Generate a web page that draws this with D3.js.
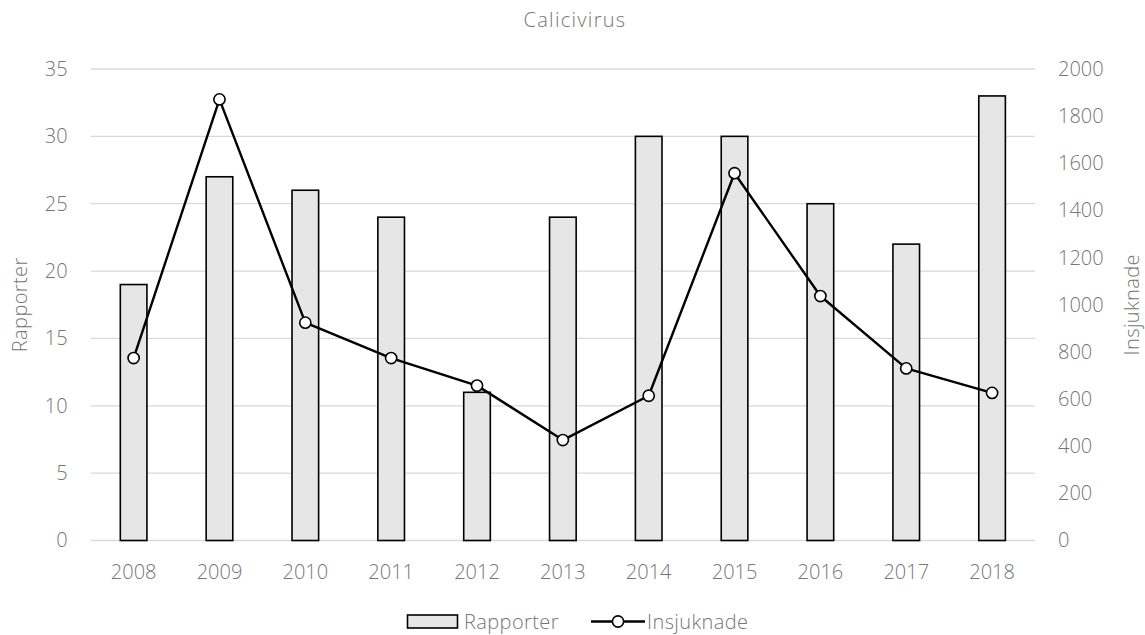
<!DOCTYPE html>
<html>
<head>
<meta charset="utf-8">
<script src="https://cdn.jsdelivr.net/npm/d3@7"></script>
<style>
  html, body { margin: 0; padding: 0; background: #fff; }
  svg { display: block; font-family: "Open Sans", sans-serif; font-weight: 300; }
  text { font-family: "Open Sans", sans-serif; font-weight: 300; }
</style>
</head>
<body>
<svg id="chart" width="1145" height="635"></svg>
<script>
const title = "Calicivirus";
const years = ["2008","2009","2010","2011","2012","2013","2014","2015","2016","2017","2018"];
const rapporter = [19, 27, 26, 24, 11, 24, 30, 30, 25, 22, 33];
const insjuknade = [774, 1871, 924, 774, 657, 426, 614, 1558, 1037, 730, 626];
const leftTicks = [0, 5, 10, 15, 20, 25, 30, 35];
const rightTicks = [0, 200, 400, 600, 800, 1000, 1200, 1400, 1600, 1800, 2000];
const leftTitle = "Rapporter";
const rightTitle = "Insjuknade";

const svg = d3.select("#chart");
const textColor = "#767676";
const fontSize = 20;

const plot = { left: 90.7, right: 1035, top: 69, bottom: 540.5 };

const x = d3.scaleBand().domain(years).range([plot.left, plot.right])
  .paddingInner(0.69).paddingOuter(0.345);
const yL = d3.scaleLinear().domain([0, 35]).range([plot.bottom, plot.top]);
const yR = d3.scaleLinear().domain([0, 2000]).range([plot.bottom, plot.top]);

function styleText(g) {
  g.selectAll("text").attr("fill", textColor)
    .style("font-size", fontSize + "px")
    .style("font-family", "'Open Sans', sans-serif").style("font-weight", 300);
}

// gridlines
svg.append("g").selectAll("line").data(leftTicks).join("line")
  .attr("x1", plot.left).attr("x2", plot.right)
  .attr("y1", d => yL(d)).attr("y2", d => yL(d))
  .attr("stroke", "#d9d9d9").attr("stroke-width", 1.3);

// left axis
const gL = svg.append("g").attr("transform", `translate(${plot.left - 23},0)`)
  .call(d3.axisLeft(yL).tickValues(leftTicks).tickSize(0).tickPadding(0));
gL.select(".domain").remove();
styleText(gL);

// right axis
const gR = svg.append("g").attr("transform", `translate(${plot.right + 23},0)`)
  .call(d3.axisRight(yR).tickValues(rightTicks).tickFormat(d3.format("d")).tickSize(0).tickPadding(0));
gR.select(".domain").remove();
styleText(gR);

// bottom axis
const gB = svg.append("g").attr("transform", `translate(0,${plot.bottom + 24})`)
  .call(d3.axisBottom(x).tickSize(0).tickPadding(0));
gB.select(".domain").remove();
styleText(gB);
gB.selectAll("text").attr("dy", "0.71em");

// bars
svg.append("g").selectAll("rect").data(years).join("rect")
  .attr("x", d => x(d))
  .attr("width", x.bandwidth())
  .attr("y", (d, i) => yL(rapporter[i]))
  .attr("height", (d, i) => yL(0) - yL(rapporter[i]))
  .attr("fill", "#e7e6e6").attr("stroke", "#000").attr("stroke-width", 1.6);

// line
const line = d3.line().x((d, i) => x(years[i]) + x.bandwidth() / 2).y(d => yR(d));
svg.append("path").datum(insjuknade).attr("d", line)
  .attr("fill", "none").attr("stroke", "#000").attr("stroke-width", 2.4)
  .attr("stroke-linejoin", "round");
svg.append("g").selectAll("circle").data(insjuknade).join("circle")
  .attr("cx", (d, i) => x(years[i]) + x.bandwidth() / 2)
  .attr("cy", d => yR(d))
  .attr("r", 5.6)
  .attr("fill", "#fff").attr("stroke", "#000").attr("stroke-width", 1.6);

// title
svg.append("text").attr("x", 575).attr("y", 20).attr("dy", "0.35em")
  .attr("text-anchor", "middle").attr("fill", textColor)
  .style("font-size", fontSize + "px").style("letter-spacing", "1.3px").text(title);

// axis titles
svg.append("text").attr("transform", `translate(20,${(plot.top + plot.bottom) / 2}) rotate(-90)`)
  .attr("text-anchor", "middle").attr("dy", "0.35em").attr("fill", textColor)
  .style("font-size", fontSize + "px").style("letter-spacing", "0.4px").text(leftTitle);
svg.append("text").attr("transform", `translate(1132,${(plot.top + plot.bottom) / 2}) rotate(-90)`)
  .attr("text-anchor", "middle").attr("dy", "0.35em").attr("fill", textColor)
  .style("font-size", fontSize + "px").style("letter-spacing", "0.4px").text(rightTitle);

// legend
const legY = 621.5;
const leg = svg.append("g");
leg.append("rect").attr("x", 407.5).attr("y", legY - 6.5).attr("width", 50).attr("height", 13)
  .attr("fill", "#e7e6e6").attr("stroke", "#000").attr("stroke-width", 1.6);
leg.append("text").attr("x", 464).attr("y", legY).attr("dy", "0.35em")
  .attr("fill", textColor).style("font-size", fontSize + "px").style("letter-spacing", "0.4px").text(leftTitle);
leg.append("line").attr("x1", 591).attr("x2", 645).attr("y1", legY).attr("y2", legY)
  .attr("stroke", "#000").attr("stroke-width", 2.4);
leg.append("circle").attr("cx", 618).attr("cy", legY).attr("r", 5.6)
  .attr("fill", "#fff").attr("stroke", "#000").attr("stroke-width", 1.6);
leg.append("text").attr("x", 647).attr("y", legY).attr("dy", "0.35em")
  .attr("fill", textColor).style("font-size", fontSize + "px").style("letter-spacing", "0.4px").text(rightTitle);
</script>
</body>
</html>
